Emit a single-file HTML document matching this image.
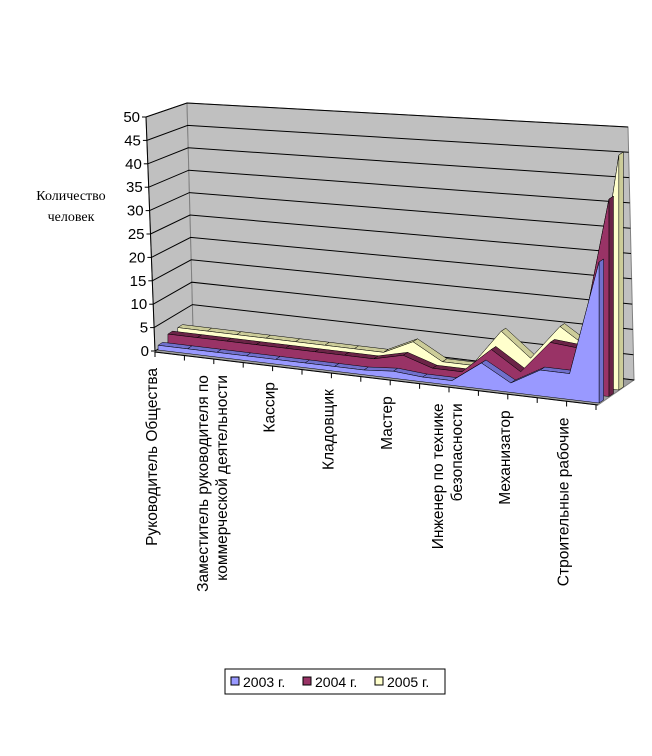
<!DOCTYPE html>
<html><head><meta charset="utf-8">
<style>
body{margin:0;background:#fff;}
svg{display:block;font-family:"Liberation Sans",Arial,sans-serif;}
</style></head>
<body>
<svg id="chart" width="652" height="756" viewBox="0 0 652 756" xmlns="http://www.w3.org/2000/svg">
<g id="walls"></g>
<g id="grid"></g>
<g id="series"></g>
<g id="axis"></g>
<text x="71" y="200" text-anchor="middle" font-family="Liberation Serif,serif" font-size="14">Количество</text>
<text x="71" y="221" text-anchor="middle" font-family="Liberation Serif,serif" font-size="14">человек</text>
<g>
<rect x="225" y="669" width="220" height="25" fill="#fff" stroke="#000" stroke-width="1"/>
<rect x="231" y="677" width="8" height="8" fill="#9999FF" stroke="#000"/>
<text x="243" y="687" font-size="14">2003 г.</text>
<rect x="303" y="677" width="8" height="8" fill="#993366" stroke="#000"/>
<text x="315" y="687" font-size="14">2004 г.</text>
<rect x="375" y="677" width="8" height="8" fill="#FFFFCC" stroke="#000"/>
<text x="387" y="687" font-size="14">2005 г.</text>
</g>
</svg>
<script>
const categories=["Руководитель Общества","","Заместитель руководителя по|коммерческой деятельности","","Кассир","","Кладовщик","","Мастер","","Инженер по технике|безопасности","","Механизатор","","Строительные рабочие",""];
const s2003=[1,1,1,1,1,1,1,1,1.5,1,1,5.5,2,5.5,5.5,30];
const s2004=[2,2,2,2,2,2,2,2,3.5,1.5,1.5,7,3,10,9.5,42];
const s2005=[2,2,2,2,2,2,2,2,5,1.5,1.5,9.5,4.5,12,8,50];
const seriesNames=["2003","2004","2005"];
const yTicks=[0,5,10,15,20,25,30,35,40,45,50];
const NS="http://www.w3.org/2000/svg";
function el(parent,tag,attrs){const e=document.createElementNS(NS,tag);for(const k in attrs)e.setAttribute(k,attrs[k]);parent.appendChild(e);return e;}
const n=categories.length;
function xBase(i){return 155+i*(596-155)/(n-1);}
function yBase(i){return 352+i*(405-352)/(n-1);}
const vScale=4.7;
function P(i,d,v){return [xBase(i)+38*d, yBase(i)-25*d-v*vScale];}
const walls=document.getElementById('walls');
let w=el(walls,'polygon',{points:"146,117 187,103 193,327 155,352",fill:"#c0c0c0",stroke:"#808080"});

w=el(walls,'polygon',{points:"187,103 628,127 634,380 193,327",fill:"#c0c0c0",stroke:"#808080"});

w=el(walls,'polygon',{points:"155,352 193,327 634,380 598,405",fill:"#a0a0a0",stroke:"#808080"});

const grid=document.getElementById('grid');
yTicks.forEach(v=>{
 const fx=155-(v/50)*9, fy=351-v*(351-117)/50;
 const bx=193-(v/50)*6, by=327-v*(327-103)/50;
 const rx=634-(v/50)*6, ry=380-v*(380-127)/50;
 const g=el(grid,'polyline',{points:`${fx},${fy} ${bx},${by} ${rx},${ry}`,fill:"none",stroke:"#000","stroke-width":1});
 
});
const sg=document.getElementById('series');
const data=[s2003,s2004,s2005];
const fills=["#9999FF","#993366","#FFFFCC"];
const tops=["#7070cc","#6b2447","#cccc99"];
for(let s=2;s>=0;s--){
 const vals=data[s];
 const d0=0.08+s*0.26, d1=d0+0.12;
 const g=el(sg,'g',{});
 
 for(let i=0;i<n-1;i++){
  const a=P(i,d0,vals[i]),b=P(i+1,d0,vals[i+1]),c=P(i+1,d1,vals[i+1]),e=P(i,d1,vals[i]);
  const t=el(g,'polygon',{points:[a,b,c,e].map(p=>p.join(',')).join(' '),fill:tops[s],stroke:"#000","stroke-width":0.5});
  
 }
 const r1=P(n-1,d0,vals[n-1]),r2=P(n-1,d1,vals[n-1]),r3=P(n-1,d1,0),r4=P(n-1,d0,0);
 const rf=el(g,'polygon',{points:[r1,r2,r3,r4].map(p=>p.join(',')).join(' '),fill:tops[s],stroke:"#000","stroke-width":0.5});
 
 const pts=[P(0,d0,0)];
 for(let i=0;i<n;i++)pts.push(P(i,d0,vals[i]));
 pts.push(P(n-1,d0,0));
 const f=el(g,'polygon',{points:pts.map(p=>p.join(',')).join(' '),fill:fills[s],stroke:"#000","stroke-width":0.5});
 
}
const ax=document.getElementById('axis');
const yl=el(ax,'line',{x1:146,y1:117,x2:155,y2:351,stroke:"#000"});

yTicks.forEach(v=>{
 const fy=351-v*(351-117)/50, fx=155-(v/50)*9;
 const t=el(ax,'line',{x1:fx-4,y1:fy,x2:fx,y2:fy,stroke:"#000"});
 
 const tx=el(ax,'text',{x:fx-6,y:fy+5,"text-anchor":"end","font-size":15});
 tx.textContent=v;
 
});
const xl=el(ax,'line',{x1:155,y1:352,x2:598,y2:405,stroke:"#000"});

for(let i=0;i<n;i++){
 const x=xBase(i),y=yBase(i);
 const t=el(ax,'line',{x1:x,y1:y,x2:x,y2:y+5,stroke:"#000"});
 
 if(!categories[i])continue;
 const lines=categories[i].split('|');
 lines.forEach((ln,k)=>{
  const lx=x+2+(lines.length===1?0:(k===0?-8:11));
  const ly=y+16;
  const tx=el(ax,'text',{x:0,y:0,"text-anchor":"end","font-size":15.5,transform:`translate(${lx},${ly}) rotate(-90)`});
  tx.textContent=ln;
  
 });
}
</script>
</body></html>
